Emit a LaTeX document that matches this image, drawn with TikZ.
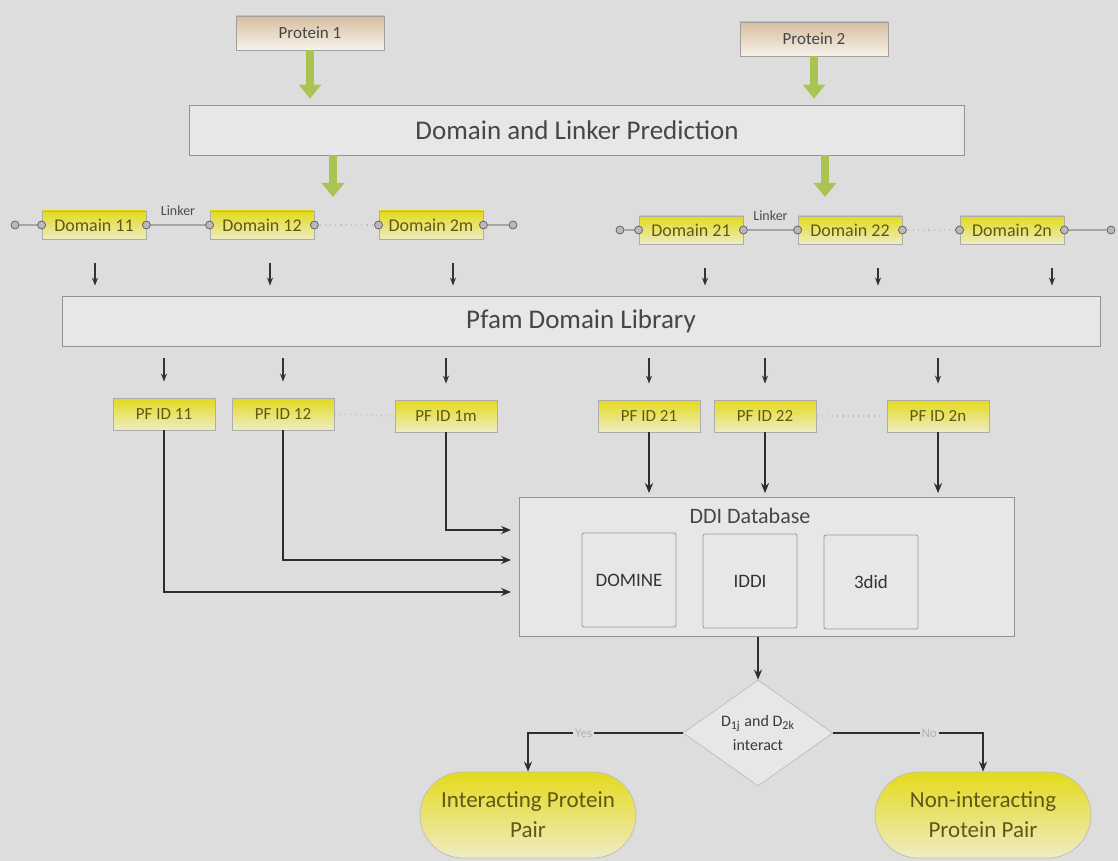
\documentclass[tikz,border=0pt]{standalone}
\usepackage{fontspec}
\setmainfont{Carlito}
\usetikzlibrary{arrows.meta,shapes.geometric,shapes.misc,calc}
\definecolor{pagebg}{RGB}{221,221,221}
\definecolor{boxbg}{RGB}{231,231,231}
\definecolor{proteintan}{RGB}{214,190,158}
\definecolor{leafgreen}{RGB}{170,196,84}
\definecolor{ddyellow}{RGB}{228,218,28}
\definecolor{ddpale}{RGB}{238,236,196}
\definecolor{olivetext}{RGB}{98,88,22}
\definecolor{inktext}{RGB}{70,70,70}
\begin{document}
\begin{tikzpicture}[x=0.5pt,y=-0.5pt]
\tikzstyle{protein box}=[rectangle,draw=gray!75,top color=proteintan,bottom color=proteintan!20!white,minimum width=74pt,minimum height=17pt,inner sep=0pt,font=\fontsize{8.5}{10}\selectfont,text=inktext]
\tikzstyle{wide box}=[rectangle,draw=gray!85,fill=boxbg,inner sep=0pt,font=\fontsize{13.5}{16}\selectfont,text=inktext]
\tikzstyle{knob}=[circle,draw=gray!80!black,fill=gray!55,inner sep=0pt,minimum size=4pt]
\tikzset{
	domain box/.style={rectangle,draw=gray!65,top color=ddyellow,bottom color=ddpale,minimum width=52pt,minimum height=14pt,inner sep=0pt,font=\fontsize{9}{10}\selectfont,text=olivetext},
	pf box/.style={domain box,minimum width=51pt,minimum height=16pt,font=\fontsize{8.5}{10}\selectfont},
	db box/.style={rectangle,draw=gray!80,fill=boxbg,rounded corners=1pt,minimum width=47pt,minimum height=47pt,inner sep=0pt,font=\fontsize{9.5}{11}\selectfont,text=gray!40!black},
	result/.style={rounded rectangle,draw=gray!50,top color=ddyellow,bottom color=ddpale,minimum width=108pt,minimum height=43pt,inner sep=0pt,align=center,font=\fontsize{11.5}{15}\selectfont,text=olivetext},
	decide/.style={diamond,draw=gray!50,fill=boxbg,minimum width=75pt,minimum height=53pt,inner sep=0pt,aspect=1.4,align=center,font=\fontsize{8}{12}\selectfont,text=gray!45!black},
	leaf arrow/.style={draw=leafgreen,line width=4pt,-{Triangle[width=11pt,length=7pt]}},
	tick arrow/.style={draw=black!80,line width=0.7pt,-{Stealth[length=4pt,width=3pt]}},
	flow/.style={draw=gray!35!black,line width=1pt,-{Stealth[length=5pt,width=4pt]}},
	chain/.style={draw=gray!70,line width=0.6pt},
	gap/.style={draw=gray!50,line width=0.6pt,dotted},
	tag/.style={fill=pagebg,inner sep=1pt,text=gray!60,font=\fontsize{6.5}{7}\selectfont}
}
\useasboundingbox (0,0) rectangle (1118,861);
\fill[pagebg] (0,0) rectangle (1118,861);

\node[protein box] (p1) at (310,33) {Protein 1};
\node[protein box] (p2) at (814,39) {Protein 2};
\node[wide box,minimum width=387.5pt,minimum height=25pt] (pred) at (577,130) {Domain and Linker Prediction};
\draw[leaf arrow] (p1.south) -- ([yshift=3pt]pred.north -| p1);
\draw[leaf arrow] (p2.south) -- ([yshift=3pt]pred.north -| p2);
\coordinate (g1) at (333,197);
\coordinate (g2) at (825,197);
\draw[leaf arrow] (pred.south -| g1) -- (g1);
\draw[leaf arrow] (pred.south -| g2) -- (g2);

\node[knob] (k1a) at (15,225) {};
\node[domain box] (d11) at (94,225) {Domain 11};
\node[domain box] (d12) at (262,225) {Domain 12};
\node[domain box] (d2m) at (431,225) {Domain 2m};
\node[knob] (k1b) at (513,225) {};
\node[knob] (k2a) at (620,230) {};
\node[domain box] (d21) at (691,230) {Domain 21};
\node[domain box] (d22) at (850,230) {Domain 22};
\node[domain box] (d2n) at (1012,230) {Domain 2n};
\node[knob] (k2b) at (1111,230) {};
\draw[chain] (k1a) -- (d11.west);
\draw[chain] (d11.east) -- node[above=1pt,text=gray!60!black,font=\fontsize{7}{8}\selectfont]{Linker} (d12.west);
\draw[gap] (d12.east) -- (d2m.west);
\draw[chain] (d2m.east) -- (k1b);
\draw[chain] (k2a) -- (d21.west);
\draw[chain] (d21.east) -- node[above=1pt,text=gray!60!black,font=\fontsize{7}{8}\selectfont]{Linker} (d22.west);
\draw[gap] (d22.east) -- (d2n.west);
\draw[chain] (d2n.east) -- (k2b);
\foreach \d in {d11,d12,d2m,d21,d22,d2n}{
	\node[knob] at (\d.west) {};
	\node[knob] at (\d.east) {};
}

\node[wide box,minimum width=519pt,minimum height=25pt] (pfam) at (581,321) {Pfam Domain Library};
\foreach \d/\x in {d11/95,d12/270,d2m/453,d21/705,d22/878,d2n/1052}
	\draw[tick arrow] ($(\d.south -| \x,0)+(0,24)$) -- ($(pfam.north -| \x,0)+(0,-10)$);

\node[pf box] (pf11) at (164,414) {PF ID 11};
\node[pf box] (pf12) at (283,414) {PF ID 12};
\node[pf box] (pf1m) at (446,416) {PF ID 1m};
\node[pf box] (pf21) at (649,416) {PF ID 21};
\node[pf box] (pf22) at (765,416) {PF ID 22};
\node[pf box] (pf2n) at (938,416) {PF ID 2n};
\draw[gap] (pf12.east) -- (pf1m.west);
\draw[gap] (pf22.east) -- (pf2n.west);
\foreach \p in {pf11,pf12,pf1m,pf21,pf22,pf2n}
	\draw[tick arrow] ([yshift=-6pt]pfam.south -| \p) -- ([yshift=8pt]\p.north);

\node[wide box,minimum width=247.5pt,minimum height=69.5pt] (ddi) at (767,567) {};
\node[text=inktext,font=\fontsize{11}{13}\selectfont] (ddit) at (750,516) {DDI Database};
\node[db box] (domine) at (629,580) {DOMINE};
\node[db box] (iddi) at (750,581) {IDDI};
\node[db box] (did) at (871,582) {3did};
\draw[flow] (pf1m.south) |- ([xshift=-4pt,yshift=18.5pt]ddi.west);
\draw[flow] (pf12.south) |- ([xshift=-4pt,yshift=3.5pt]ddi.west);
\draw[flow] (pf11.south) |- ([xshift=-4pt,yshift=-12.5pt]ddi.west);
\draw[flow] (pf21.south) -- ([yshift=2pt]ddi.north -| pf21);
\draw[flow] (pf22.south) -- ([yshift=2pt]ddi.north -| pf22);
\draw[flow] (pf2n.south) -- ([yshift=2pt]ddi.north -| pf2n);

\node[decide] (dec) at (758,733) {D\textsubscript{1j} and D\textsubscript{2k}\\interact};
\draw[flow] (ddi.south -| dec) -- (dec.north);
\node[result] (yes) at (528,815) {Interacting Protein\\Pair};
\node[result] (no) at (983,815) {Non-interacting\\Protein Pair};
\draw[flow] (dec.west) -| node[pos=0.32,tag]{Yes} (yes.north);
\draw[flow] (dec.east) -| node[pos=0.32,tag]{No} (no.north);
\end{tikzpicture}
\end{document}
